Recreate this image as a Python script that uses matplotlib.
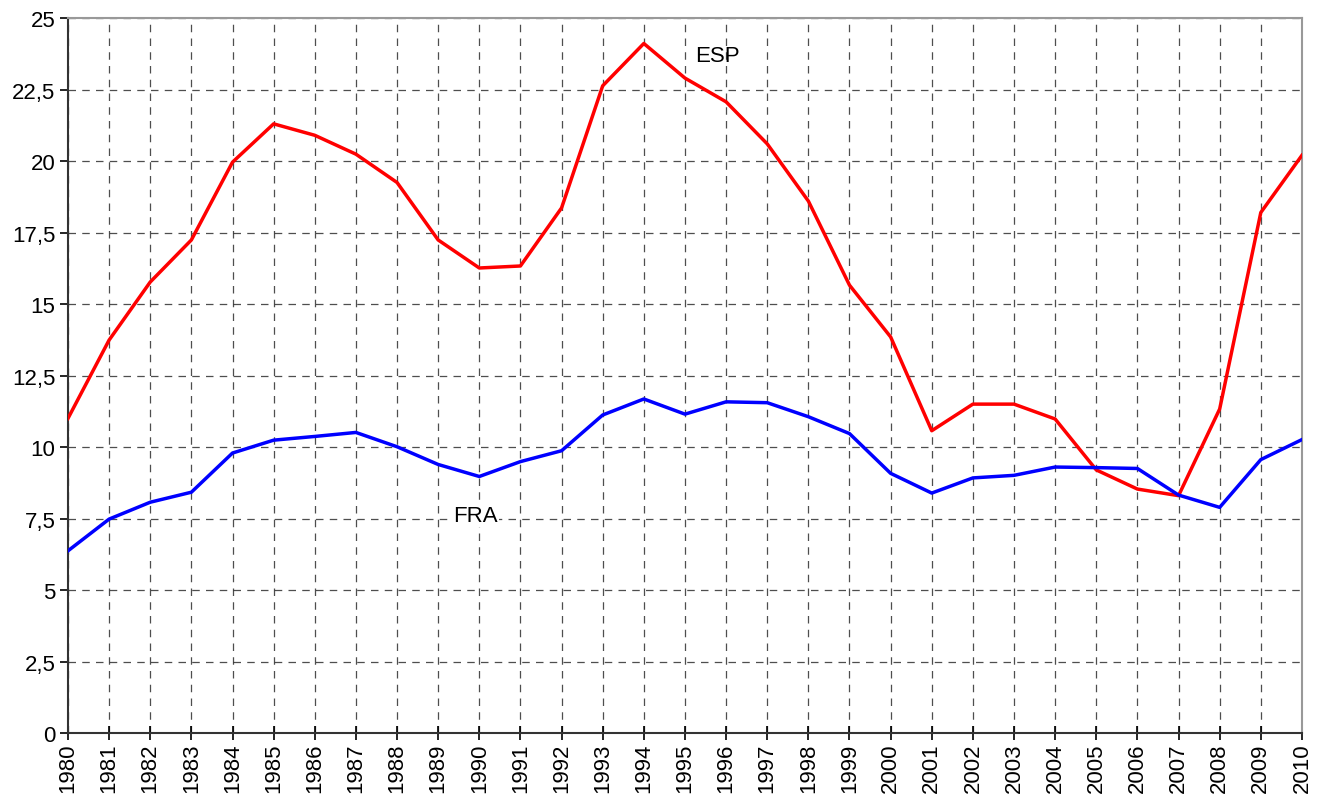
import numpy as np
import matplotlib.pyplot as plt
from matplotlib.ticker import FuncFormatter

plt.rcParams['font.family'] = ['Liberation Sans', 'DejaVu Sans']

years = list(range(1980, 2011))

esp = [11.0, 13.74, 15.77, 17.24, 19.96, 21.3, 20.9, 20.24, 19.25, 17.24,
       16.26, 16.33, 18.36, 22.63, 24.11, 22.9, 22.07, 20.6, 18.6, 15.66,
       13.85, 10.57, 11.5, 11.5, 10.98, 9.2, 8.53, 8.3, 11.33, 18.2, 20.2]

fra = [6.37, 7.48, 8.07, 8.42, 9.79, 10.24, 10.37, 10.51, 10.01, 9.39,
       8.97, 9.49, 9.87, 11.12, 11.68, 11.15, 11.58, 11.55, 11.06, 10.47,
       9.08, 8.39, 8.92, 9.01, 9.3, 9.28, 9.25, 8.32, 7.89, 9.56, 10.26]

yticks = [0, 2.5, 5, 7.5, 10, 12.5, 15, 17.5, 20, 22.5, 25]

fig = plt.figure(figsize=(13.25, 8.03), dpi=100)
ax = fig.add_axes([0.0513, 0.0859, 0.9313, 0.8904])

ax.plot(years, esp, color='#ff0000', lw=2.5, zorder=3)
ax.plot(years, fra, color='#0000ff', lw=2.5, zorder=3)

ax.set_xlim(1980, 2010)
ax.set_ylim(0, 25)
ax.set_xticks(years)
ax.set_xticklabels([str(y) for y in years], rotation=90, fontsize=16)
ax.set_yticks(yticks)
ax.yaxis.set_major_formatter(FuncFormatter(lambda v, p: ('%g' % v).replace('.', ',')))
ax.tick_params(axis='y', labelsize=16, direction='out', length=6, width=1.2, pad=3)
ax.tick_params(axis='x', direction='inout', length=10, width=1.2, pad=2)

ax.grid(True, color='#222222', lw=0.9, linestyle=(0, (6, 5)), alpha=0.8)
ax.set_axisbelow(True)

for s in ['top', 'right']:
    ax.spines[s].set_color('#999999')
    ax.spines[s].set_linewidth(1.5)
for s in ['left', 'bottom']:
    ax.spines[s].set_color('#333333')
    ax.spines[s].set_linewidth(1.5)

ax.text(1995.8, 23.7, 'ESP', fontsize=16, ha='center', va='center')
ax.text(1989.9, 7.6, 'FRA', fontsize=16, ha='center', va='center',
        bbox=dict(facecolor='white', edgecolor='none', pad=1))

fig.savefig('out.png', dpi=100)
